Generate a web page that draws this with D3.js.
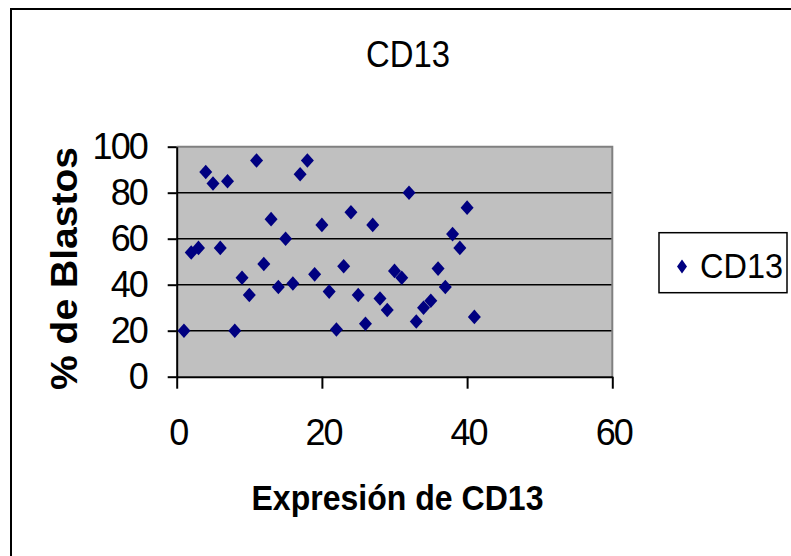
<!DOCTYPE html>
<html>
<head>
<meta charset="utf-8">
<script src="https://cdn.jsdelivr.net/npm/d3@7"></script>
<style>
  body { margin: 0; background: #fff; }
  svg { display: block; font-family: "Liberation Sans", Arial, sans-serif; }
</style>
</head>
<body>
<div id="chart"></div>
<script>
'use strict';

// valores
const expresion = [1, 2, 3, 4, 5, 6, 7, 8, 9, 10, 11, 12, 13, 14, 15, 16, 17, 18, 19, 20, 21,
  22, 23, 24, 25, 26, 27, 28, 29, 30, 31, 32, 33, 34, 35, 36, 37, 38, 39, 40, 41];
const blastos = [20, 54, 56, 89, 84, 56, 85, 20, 43, 35.5, 94, 49, 68.5, 39, 60, 40.5, 88, 94,
  44.5, 66, 37, 20.5, 48, 71.5, 35.5, 23, 66, 34, 29, 46, 43, 80, 24, 30, 33, 47, 39, 62, 56, 73.5, 26];
const xTicks = [0, 20, 40, 60];
const yTicks = [0, 20, 40, 60, 80, 100];
const seriesName = 'CD13';
const chartTitle = 'CD13';
const xTitle = 'Expresión de CD13';
const yTitle = '% de Blastos';

const W = 791, H = 556;
const plot = { left: 176.7, right: 612.3, top: 146.7, bottom: 376.7 };
const markerColor = '#000080';

const svg = d3.select('#chart').append('svg')
  .attr('width', W).attr('height', H);

// marco exterior
svg.append('rect')
  .attr('x', 11).attr('y', 9).attr('width', 820).attr('height', 580)
  .attr('fill', '#fff').attr('stroke', '#000').attr('stroke-width', 2);

const x = d3.scaleLinear().domain([0, 60]).range([plot.left, plot.right]);
const y = d3.scaleLinear().domain([0, 100]).range([plot.bottom, plot.top]);

// diamante tipo Excel (ancho/alto independientes)
const diamond = (hw, hh) => ({
  draw(ctx) {
    ctx.moveTo(0, -hh);
    ctx.lineTo(hw, 0);
    ctx.lineTo(0, hh);
    ctx.lineTo(-hw, 0);
    ctx.closePath();
  }
});

// area del grafico
svg.append('rect')
  .attr('x', plot.left).attr('y', plot.top)
  .attr('width', plot.right - plot.left).attr('height', plot.bottom - plot.top)
  .attr('fill', '#c0c0c0');

svg.append('g').selectAll('line')
  .data(yTicks.filter(d => d > 0 && d < 100))
  .enter().append('line')
  .attr('x1', plot.left).attr('x2', plot.right)
  .attr('y1', d => y(d)).attr('y2', d => y(d))
  .attr('stroke', '#000').attr('stroke-width', 1.5);

svg.append('path')
  .attr('d', `M${plot.left},${plot.top}H${plot.right}V${plot.bottom}`)
  .attr('fill', 'none').attr('stroke', '#808080').attr('stroke-width', 2);

// ejes
const styleAxis = (g) => {
  g.select('.domain').attr('stroke-width', 2);
  g.selectAll('.tick line').attr('stroke-width', 2);
  g.selectAll('.tick text')
    .attr('font-size', 36)
    .attr('letter-spacing', -2)
    .attr('fill', '#000');
  g.attr('font-family', null);
};

const $yAxis = svg.append('g')
  .attr('transform', `translate(${plot.left},0)`)
  .call(d3.axisLeft(y).tickValues(yTicks).tickSize(9).tickSizeOuter(0).tickPadding(21));
styleAxis($yAxis);
$yAxis.selectAll('.tick text').attr('dy', '0.34em');

const $xAxis = svg.append('g')
  .attr('transform', `translate(0,${plot.bottom})`)
  .call(d3.axisBottom(x).tickValues(xTicks).tickSize(12).tickSizeOuter(0).tickPadding(31));
styleAxis($xAxis);
$xAxis.selectAll('.tick text').attr('dx', 1);

// puntos
svg.append('g').selectAll('path')
  .data(expresion.map((e, i) => ({ e, b: blastos[i] })))
  .enter().append('path')
  .attr('transform', d => `translate(${x(d.e)},${y(d.b)})`)
  .attr('d', d3.symbol().type(diamond(6.5, 7.3)))
  .attr('fill', markerColor);

// titulos
svg.append('text')
  .attr('x', 408).attr('y', 66.7)
  .attr('text-anchor', 'middle')
  .attr('font-size', 36)
  .attr('textLength', 84).attr('lengthAdjust', 'spacingAndGlyphs')
  .text(chartTitle);

svg.append('text')
  .attr('x', 397.5).attr('y', 509.5)
  .attr('text-anchor', 'middle')
  .attr('font-size', 35).attr('font-weight', 'bold')
  .attr('textLength', 292).attr('lengthAdjust', 'spacingAndGlyphs')
  .text(xTitle);

svg.append('text')
  .attr('transform', `translate(77,268.5) rotate(-90)`)
  .attr('text-anchor', 'middle')
  .attr('font-size', 36).attr('font-weight', 'bold')
  .attr('textLength', 243).attr('lengthAdjust', 'spacingAndGlyphs')
  .text(yTitle);

// leyenda
const $legend = svg.append('g');
$legend.append('rect')
  .attr('x', 659).attr('y', 232.7).attr('width', 128).attr('height', 60)
  .attr('fill', '#fff').attr('stroke', '#000').attr('stroke-width', 1.5);
$legend.append('path')
  .attr('transform', 'translate(682,266.5)')
  .attr('d', d3.symbol().type(diamond(5, 7)))
  .attr('fill', markerColor);
$legend.append('text')
  .attr('x', 700).attr('y', 278)
  .attr('font-size', 35)
  .attr('textLength', 83).attr('lengthAdjust', 'spacingAndGlyphs')
  .text(seriesName);
</script>
</body>
</html>
